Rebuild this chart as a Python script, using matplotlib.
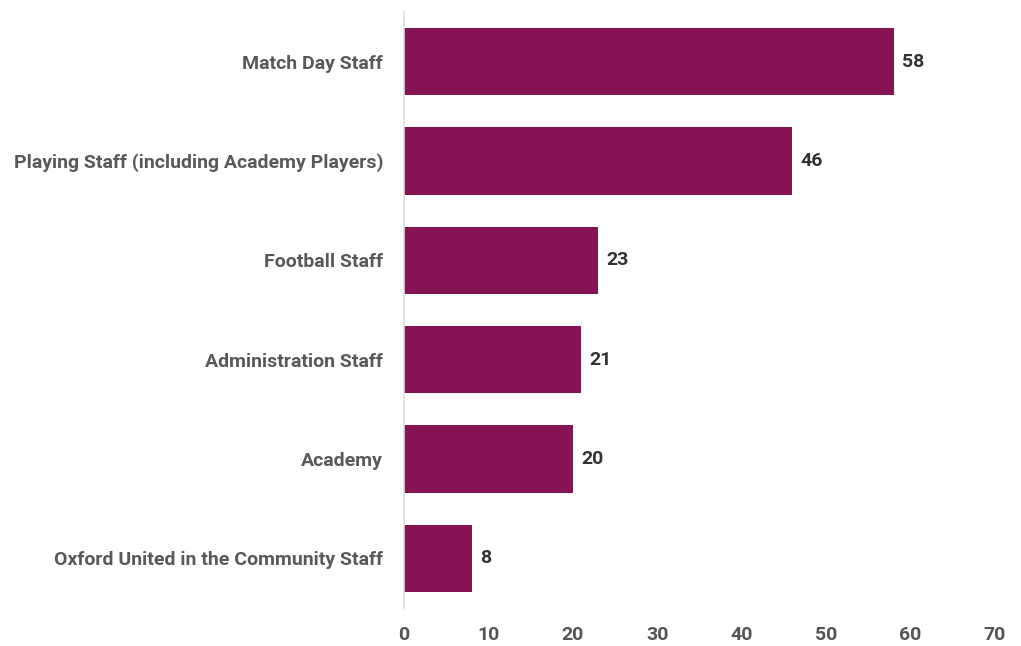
import matplotlib.pyplot as plt

plt.rcParams['font.family'] = ['Roboto', 'DejaVu Sans']

categories = ['Match Day Staff', 'Playing Staff (including Academy Players)', 'Football Staff',
              'Administration Staff', 'Academy', 'Oxford United in the Community Staff']
values = [58, 46, 23, 21, 20, 8]

fig = plt.figure(figsize=(10.21, 6.46), dpi=100)
ax = fig.add_axes([0.3957, 0.0588, 0.5788, 0.9226])

pos = list(range(len(categories)))[::-1]
ax.barh(pos, values, height=0.675, color='#861454')
for p, v in zip(pos, values):
    ax.text(v + 1.0, p, str(v), va='center', ha='left', fontsize=14,
            fontweight='bold', color='#333333')

ax.set_xlim(0, 70)
ax.set_ylim(-0.5, len(categories) - 0.5)
ax.set_xticks(range(0, 71, 10))
ax.set_yticks(pos)
ax.set_yticklabels(categories)
ax.tick_params(axis='x', length=0, pad=13, labelsize=14, labelcolor='#555555')
ax.tick_params(axis='y', length=0, pad=15, labelsize=14, labelcolor='#595959')
for lab in ax.get_xticklabels() + ax.get_yticklabels():
    lab.set_fontweight('bold')

for s in ['top', 'right', 'bottom']:
    ax.spines[s].set_visible(False)
ax.spines['left'].set_color('#dddddd')
ax.spines['left'].set_linewidth(1.2)

fig.savefig('out.png', dpi=100)
